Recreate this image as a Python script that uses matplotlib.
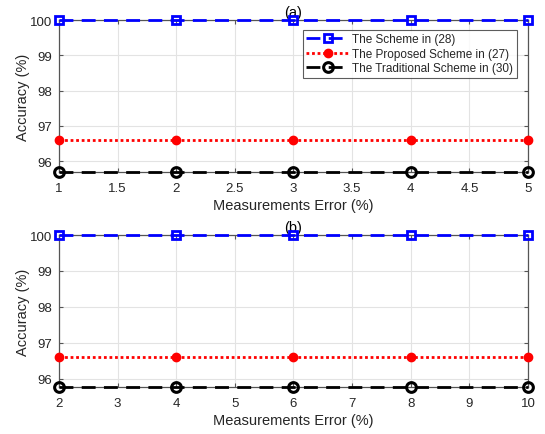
import matplotlib
matplotlib.use("Agg")
import matplotlib.pyplot as plt

plt.rcParams['font.family'] = ['Liberation Sans', 'DejaVu Sans']

# Panel (a): measurement error 1..5 %
err_a = [1, 2, 3, 4, 5]
scheme28_a = [100, 100, 100, 100, 100]
proposed27_a = [96.6, 96.6, 96.6, 96.6, 96.6]
traditional30_a = [95.68, 95.68, 95.68, 95.68, 95.68]
xticks_a = [1, 1.5, 2, 2.5, 3, 3.5, 4, 4.5, 5]

# Panel (b): measurement error 2..10 %
err_b = [2, 4, 6, 8, 10]
scheme28_b = [100, 100, 100, 100, 100]
proposed27_b = [96.6, 96.6, 96.6, 96.6, 96.6]
traditional30_b = [95.76, 95.76, 95.76, 95.76, 95.76]
xticks_b = [2, 3, 4, 5, 6, 7, 8, 9, 10]

yticks = [96, 97, 98, 99, 100]
labels = ["The Scheme in (28)", "The Proposed Scheme in (27)", "The Traditional Scheme in (30)"]

text_col = '#262626'
spine_col = '#555555'

fig = plt.figure(figsize=(5.45, 4.35), dpi=100)
ax_a = fig.add_axes([0.108, 0.6016, 0.861, 0.350])
ax_b = fig.add_axes([0.108, 0.1074, 0.861, 0.350])


def draw(ax, x, s28, p27, t30, xt, title, legend):
    ax.plot(x, s28, color='#0000ff', lw=2, linestyle=(0, (5, 3)),
            marker='s', ms=6, mfc='none', mec='#0000ff', mew=2,
            label=labels[0], clip_on=False, zorder=5)
    ax.plot(x, p27, color='#ff0000', lw=2, linestyle=(0, (1, 1)),
            marker='o', ms=6, mfc='#ff0000', mec='#ff0000',
            label=labels[1], clip_on=False, zorder=5)
    ax.plot(x, t30, color='#000000', lw=2, linestyle=(0, (5, 3)),
            marker='o', ms=7, mfc='none', mec='#000000', mew=2.2,
            label=labels[2], clip_on=False, zorder=5)
    ax.set_xlim(x[0], x[-1])
    ax.set_ylim(t30[0], 100)
    ax.set_xticks(xt)
    ax.set_xticklabels([f"{v:g}" for v in xt])
    ax.set_yticks(yticks)
    ax.grid(True, color='#e3e3e3', lw=0.8)
    ax.set_axisbelow(True)
    for sp in ax.spines.values():
        sp.set_color(spine_col)
        sp.set_linewidth(0.9)
    ax.tick_params(direction='in', top=True, right=True, length=3,
                   colors=spine_col, labelcolor=text_col, labelsize=9.5)
    ax.tick_params(axis='x', pad=7)
    ax.tick_params(axis='y', pad=5)
    ax.set_xlabel("Measurements Error (%)", fontsize=10.5, color=text_col, labelpad=3)
    ax.set_ylabel("Accuracy (%)", fontsize=10.5, color=text_col, labelpad=0)
    ax.set_title(title, fontsize=10.5, color='#000000', pad=3)
    if legend:
        leg = ax.legend(loc='upper right', bbox_to_anchor=(0.976, 0.935),
                        fontsize=8.5, frameon=True, fancybox=False,
                        borderpad=0.3, labelspacing=0.2, handlelength=3.6,
                        handletextpad=0.3, borderaxespad=0)
        leg.get_frame().set_edgecolor('#333333')
        leg.get_frame().set_linewidth(0.8)
        for t in leg.get_texts():
            t.set_color(text_col)


draw(ax_a, err_a, scheme28_a, proposed27_a, traditional30_a, xticks_a, "(a)", True)
draw(ax_b, err_b, scheme28_b, proposed27_b, traditional30_b, xticks_b, "(b)", False)

fig.savefig("out.png", dpi=100)
